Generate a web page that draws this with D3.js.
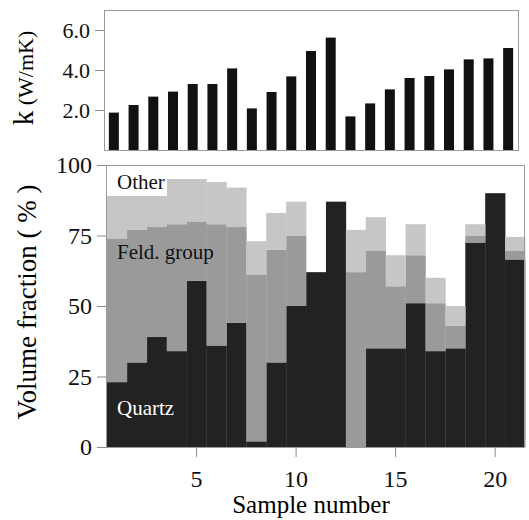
<!DOCTYPE html>
<html>
<head>
<meta charset="utf-8">
<script src="https://cdn.jsdelivr.net/npm/d3@7"></script>
<style>
    body { margin: 0; background: #fff; }
    svg, svg text { font-family: 'Liberation Serif', 'Times New Roman', Times, 'DejaVu Serif', serif !important; }
    .tick line { stroke: #8a8a8a; }
    .tick text { fill: #111; }
</style>
</head>
<body>
<svg id="chart"></svg>
<script>
// sample numbers 1..21
const samples = d3.range(1, 22);
// thermal conductivity k (W/mK)
const kValues = [1.87, 2.25, 2.67, 2.92, 3.3, 3.3, 4.08, 2.08, 2.9, 3.68, 4.95, 5.62, 1.68, 2.33, 3.03, 3.6, 3.7, 4.03, 4.53, 4.58, 5.1];
// volume fractions (%)
const quartz = [23, 30, 39, 34, 59, 36, 44, 2, 30, 50, 62, 87, 0, 35, 35, 51, 34, 35, 72.5, 90, 66.5];
const feldGroup = [51, 47, 39, 45, 21, 43, 34, 59, 40, 25, 0, 0, 62, 34.5, 22, 17, 17, 8, 2.5, 0, 3];
const other = [15, 15, 16, 16, 15, 15, 14, 12, 13, 12, 0, 0, 15, 12, 11, 11, 9, 7, 4, 0, 5];
const kTicks = [2, 4, 6];
const volTicks = [0, 25, 50, 75, 100];
const sampleTicks = [5, 10, 15, 20];

const width = 529;
const height = 520;

const svg = d3.select('#chart')
    .attr('width', width)
    .attr('height', height);

// ---- top panel: k ----
const kBox = { left: 104, right: 518, top: 10, bottom: 150 };

const xTop = d3.scaleBand()
    .domain(samples)
    .range([kBox.left, kBox.right]);

const yK = d3.scaleLinear()
    .domain([0, 7])
    .range([kBox.bottom, kBox.top]);

svg.append('rect')
    .attr('x', kBox.left + 0.5)
    .attr('y', kBox.top + 0.5)
    .attr('width', kBox.right - kBox.left)
    .attr('height', kBox.bottom - kBox.top)
    .attr('fill', 'none')
    .attr('stroke', '#9a9a9a');

svg.selectAll('.kbar')
    .data(samples)
    .join('rect')
        .classed('kbar', true)
        .attr('x', d => xTop(d) + xTop.bandwidth() / 2 - 5)
        .attr('width', 10)
        .attr('y', (d, i) => yK(kValues[i]))
        .attr('height', (d, i) => yK(0) - yK(kValues[i]))
        .attr('fill', '#111');

const kAxis = svg.append('g')
    .attr('transform', `translate(${kBox.left},0)`)
    .call(d3.axisLeft(yK).tickValues(kTicks).tickFormat(d3.format('.1f')).tickSize(9).tickPadding(5));
kAxis.select('.domain').remove();
kAxis.selectAll('text').style('font-size', '22px');

svg.append('text')
    .attr('transform', 'translate(33,78) rotate(-90)')
    .attr('text-anchor', 'middle')
    .call(t => {
        t.append('tspan').style('font-size', '29px').text('k');
        t.append('tspan').style('font-size', '22px').text(' (W/mK)');
    });

// ---- bottom panel: volume fractions ----
const volBox = { left: 107, right: 525, top: 165, bottom: 447 };

const x = d3.scaleBand()
    .domain(samples)
    .range([volBox.left, volBox.right]);

const y = d3.scaleLinear()
    .domain([0, 100])
    .range([volBox.bottom, volBox.top]);

const table = samples.map((s, i) => ({ sample: s, quartz: quartz[i], feld: feldGroup[i], other: other[i] }));
const keys = ['quartz', 'feld', 'other'];
const colors = { quartz: '#222222', feld: '#9a9a9a', other: '#c6c6c6' };
const series = d3.stack().keys(keys)(table);

svg.selectAll('.layer')
    .data(series)
    .join('g')
        .classed('layer', true)
        .attr('fill', d => colors[d.key])
    .selectAll('rect')
    .data(d => d)
    .join('rect')
        .attr('x', d => x(d.data.sample))
        .attr('width', x.bandwidth() + 0.3)
        .attr('y', d => y(d[1]))
        .attr('height', d => y(d[0]) - y(d[1]));

svg.append('rect')
    .attr('x', volBox.left - 0.5)
    .attr('y', volBox.top + 0.5)
    .attr('width', volBox.right - volBox.left)
    .attr('height', volBox.bottom - volBox.top)
    .attr('fill', 'none')
    .attr('stroke', '#9a9a9a');

// labels inside
svg.append('rect')
    .attr('x', volBox.left)
    .attr('y', volBox.top + 1)
    .attr('width', 60)
    .attr('height', 30)
    .attr('fill', '#fff');

const labelStyle = t => t.style('font-size', '21px');

svg.append('text').attr('x', 117).attr('y', 189).attr('fill', '#111').text('Other').call(labelStyle);
svg.append('text').attr('x', 117).attr('y', 259).attr('fill', '#111').text('Feld. group').call(labelStyle);
svg.append('text').attr('x', 117).attr('y', 415).attr('fill', '#fff').text('Quartz').call(labelStyle);

const yAxis = svg.append('g')
    .attr('transform', `translate(${volBox.left - 1},0)`)
    .call(d3.axisLeft(y).tickValues(volTicks).tickSize(9).tickPadding(5));
yAxis.select('.domain').remove();
yAxis.selectAll('text').style('font-size', '24px');

const xAxis = svg.append('g')
    .attr('transform', `translate(0,${volBox.bottom})`)
    .call(d3.axisBottom(x).tickValues(sampleTicks).tickSize(10).tickPadding(13));
xAxis.select('.domain').remove();
xAxis.selectAll('text').style('font-size', '24px');

svg.append('text')
    .attr('transform', 'translate(36,302) rotate(-90)')
    .attr('text-anchor', 'middle')
    .style('font-size', '27px')
    .text('Volume fraction ( % )');

svg.append('text')
    .attr('x', 311)
    .attr('y', 513)
    .attr('text-anchor', 'middle')
    .style('font-size', '25px')
    .text('Sample number');
</script>
</body>
</html>
